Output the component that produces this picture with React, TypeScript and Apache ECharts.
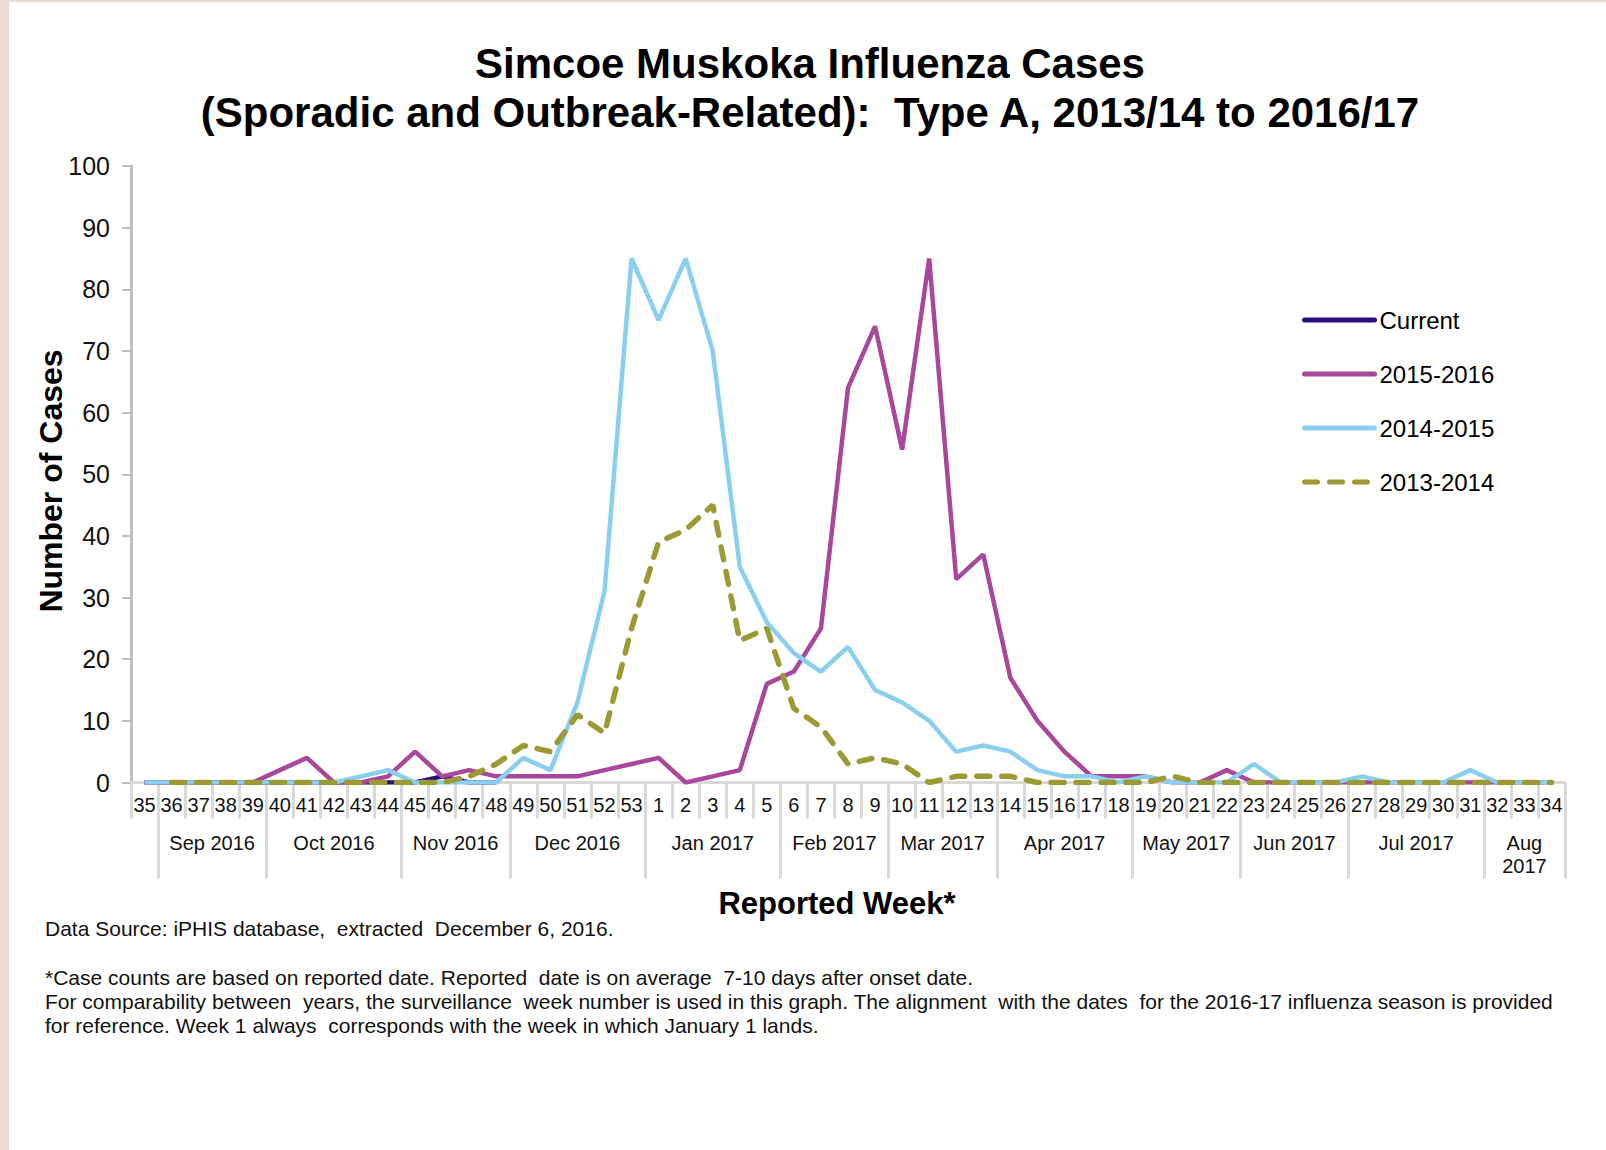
import React, { useEffect, useRef } from "react";
import * as echarts from "echarts";

const weeks = [
  "35","36","37","38","39","40","41","42","43","44","45","46","47","48","49","50","51","52","53",
  "1","2","3","4","5","6","7","8","9","10","11","12","13","14","15","16","17","18","19","20",
  "21","22","23","24","25","26","27","28","29","30","31","32","33","34",
];

// month groups: label and first category index; last edge is weeks.length
const monthLabels = ["Sep 2016","Oct 2016","Nov 2016","Dec 2016","Jan 2017","Feb 2017","Mar 2017","Apr 2017","May 2017","Jun 2017","Jul 2017","Aug\n2017"];
const monthStarts = [1, 5, 10, 14, 19, 24, 28, 32, 37, 41, 45, 50];

const current = [0,0,0,0,0,0,0,0,0,0,0,1,0,0];
const s2015 = [0,0,0,0,0,2,4,0,0,1,5,1,2,1,1,1,1,2,3,
  4,0,1,2,16,18,25,64,74,54,85,33,37,17,10,5,1,1,1,0,0,2,0,0,0,0,0,0,0,0,0,0,0,0];
const s2014 = [0,0,0,0,0,0,0,0,1,2,0,0,0,0,4,2,13,31,85,
  75,85,70,35,26,21,18,22,15,13,10,5,6,5,2,1,1,0,1,0,0,0,3,0,0,0,1,0,0,0,2,0,0,0];
const s2013 = [null,0,0,0,0,0,0,0,0,0,0,0,1,3,6,5,11,8,25,
  39,41,45,23,25,12,9,3,4,3,0,1,1,1,0,0,0,0,0,1,0,0,0,0,0,0,0,0,0,0,0,0,0,0];

const seriesNames = ["Current", "2015-2016", "2014-2015", "2013-2014"];
const yTicks = { min: 0, max: 100, interval: 10 };

const titleText = "Simcoe Muskoka Influenza Cases\n(Sporadic and Outbreak-Related):  Type A, 2013/14 to 2016/17";
const notes = [
  "Data Source: iPHIS database,  extracted  December 6, 2016.",
  "*Case counts are based on reported date. Reported  date is on average  7-10 days after onset date.",
  "For comparability between  years, the surveillance  week number is used in this graph. The alignment  with the dates  for the 2016-17 influenza season is provided",
  "for reference. Week 1 always  corresponds with the week in which January 1 lands.",
];

const FONT = "'Liberation Sans', Arial, sans-serif";

export default function App() {
  const ref = useRef<HTMLDivElement>(null);
  useEffect(() => {
    const chart = echarts.init(ref.current!, null, { renderer: "svg" });
    const edges = [...monthStarts, weeks.length];
    const centers = monthStarts.map((s, i) => (s + edges[i + 1]) / 2);
    const option = {
      animation: false,
      backgroundColor: "#ffffff",
      textStyle: { fontFamily: FONT },
      title: {
        text: titleText,
        left: 805,
        top: 34,
        textAlign: "center",
        textStyle: { fontFamily: FONT, fontSize: 42, fontWeight: "bold", color: "#000", lineHeight: 49 },
      },
      legend: {
        orient: "vertical",
        left: 1297,
        top: 303,
        itemWidth: 70,
        itemHeight: 14,
        itemGap: 30,
        data: seriesNames,
        itemStyle: { opacity: 0 },
        lineStyle: { width: 5, cap: "round" },
        textStyle: { fontFamily: FONT, fontSize: 24, color: "#000" },
      },
      grid: { left: 131, right: 41, top: 166, bottom: 367.5, containLabel: false },
      xAxis: [
        {
          type: "category",
          data: weeks,
          boundaryGap: true,
          axisLine: { show: true, lineStyle: { color: "#D9D9D9", width: 3 } },
          axisTick: { show: true, interval: 0, length: 36, lineStyle: { color: "#D9D9D9", width: 3 } },
          axisLabel: { interval: 0, fontSize: 20, color: "#111", margin: 12, fontFamily: FONT },
          splitLine: { show: false },
        },
        {
          type: "value",
          min: 0,
          max: weeks.length,
          position: "bottom",
          axisLine: { show: false },
          splitLine: { show: false },
          axisTick: { show: true, customValues: edges, length: 96, lineStyle: { color: "#D9D9D9", width: 3 } },
          axisLabel: {
            show: true,
            customValues: centers,
            margin: 49,
            fontSize: 20,
            lineHeight: 23,
            color: "#111",
            fontFamily: FONT,
            formatter: (v: number) => {
              const i = centers.findIndex((c) => Math.abs(c - v) < 1e-6);
              return i >= 0 ? monthLabels[i] : "";
            },
          },
        },
      ],
      yAxis: {
        type: "value",
        min: yTicks.min,
        max: yTicks.max,
        interval: yTicks.interval,
        axisLine: { show: true, lineStyle: { color: "#BFBFBF", width: 3 } },
        axisTick: { show: true, length: 9, lineStyle: { color: "#BFBFBF", width: 2 } },
        axisLabel: { fontSize: 25, color: "#111", margin: 21, fontFamily: FONT },
        splitLine: { show: false },
      },
      graphic: [
        { type: "rect", left: 0, top: 0, shape: { x: 0, y: 0, width: 9, height: 1150 }, style: { fill: "#E6DCD1" }, silent: true },
        { type: "rect", left: 0, top: 0, shape: { x: 0, y: 0, width: 1606, height: 2 }, style: { fill: "#E6DCD1" }, silent: true },
        {
          type: "text",
          x: 837,
          y: 903,
          style: { text: "Reported Week*", font: `bold 31px ${FONT}`, fill: "#000", align: "center", verticalAlign: "middle" },
        },
        {
          type: "text",
          x: 51,
          y: 481,
          rotation: Math.PI / 2,
          style: { text: "Number of Cases", font: `bold 32px ${FONT}`, fill: "#000", align: "center", verticalAlign: "middle" },
        },
        ...notes.map((t, i) => ({
          type: "text",
          x: 45,
          y: [928, 977, 1001, 1025][i],
          style: { text: t, font: `21px ${FONT}`, fill: "#111", align: "left", verticalAlign: "middle" },
        })),
      ],
      series: [
        {
          name: seriesNames[0], type: "line", data: current, symbol: "none",
          lineStyle: { color: "#2B0E80", width: 4.5 }, itemStyle: { color: "#2B0E80" },
        },
        {
          name: seriesNames[1], type: "line", data: s2015, symbol: "none",
          lineStyle: { color: "#A8479C", width: 4.5 }, itemStyle: { color: "#A8479C" },
        },
        {
          name: seriesNames[2], type: "line", data: s2014, symbol: "none",
          lineStyle: { color: "#8ACFF0", width: 4.5 }, itemStyle: { color: "#8ACFF0" },
        },
        {
          name: seriesNames[3], type: "line", data: s2013, symbol: "none",
          lineStyle: { color: "#9C9A34", width: 5.5, type: [13, 12], cap: "round" }, itemStyle: { color: "#9C9A34" },
        },
      ],
    };
    chart.setOption(option as any);
    return () => chart.dispose();
  }, []);
  return <div ref={ref} style={{ position: "fixed", left: 0, top: 0, width: 1606, height: 1150 }} />;
}
